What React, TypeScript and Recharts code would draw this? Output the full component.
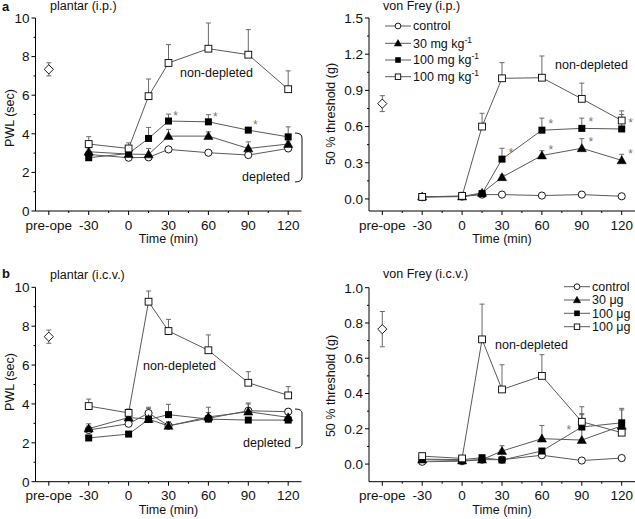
import React from 'react';
import { LineChart, Line, XAxis, YAxis, ErrorBar } from 'recharts';

// ---------- shared x axis ----------
const TIMES = [-30, 0, 15, 30, 60, 90, 120];
const PRE_X = -60;
const X_MAJOR = [-60, -30, 0, 30, 60, 90, 120];
const X_MINOR = [-45, -15, 15, 45, 75, 105];
const X_LABELS = ['pre-ope', '-30', '0', '30', '60', '90', '120'];

// ---------- panel a, plantar (i.p.)  PWL (sec) ----------
const A_PL_CTL = [2.93, 2.76, 2.78, 3.19, 3.02, 2.9, 3.24];
const A_PL_CTL_E = [0.1, 0.08, 0.08, 0.1, 0.1, 0.1, 0.1];
const A_PL_D30 = [3.07, 2.95, 2.93, 3.88, 3.88, 3.24, 3.47];
const A_PL_D30_E = [0.2, 0.15, 0.31, 0.35, 0.22, 0.34, 0.15];
const A_PL_D100 = [2.76, 2.98, 3.76, 4.66, 4.62, 4.19, 3.84];
const A_PL_D100_E = [0.1, 0.15, 0.57, 0.36, 0.37, 0.08, 0.52];
const A_PL_ND = [3.47, 3.24, 5.95, 7.67, 8.41, 8.1, 6.31];
const A_PL_ND_E = [0.38, 0.29, 0.89, 0.95, 1.33, 1.3, 0.95];
const A_PL_PRE = 7.34;
const A_PL_PRE_E = 0.34;
const A_PL_SIG_D100 = [0, 0, 0, 1, 1, 1, 0];

// ---------- panel a, von Frey (i.p.)  50 % threshold (g) ----------
const A_VF_CTL = [0.014, 0.02, 0.036, 0.036, 0.028, 0.036, 0.022];
const A_VF_CTL_E = [0.01, 0.01, 0.01, 0.01, 0.01, 0.01, 0.01];
const A_VF_D30 = [0.02, 0.02, 0.05, 0.18, 0.36, 0.42, 0.32];
const A_VF_D30_E = [0.01, 0.01, 0.015, 0.02, 0.04, 0.08, 0.05];
const A_VF_D100 = [0.02, 0.02, 0.044, 0.33, 0.57, 0.585, 0.58];
const A_VF_D100_E = [0.01, 0.01, 0.015, 0.09, 0.1, 0.085, 0.12];
const A_VF_ND = [0.017, 0.025, 0.6, 1.0, 1.005, 0.83, 0.65];
const A_VF_ND_E = [0.02, 0.03, 0.11, 0.13, 0.18, 0.13, 0.08];
const A_VF_PRE = 0.79;
const A_VF_PRE_E = 0.066;
const A_VF_SIG_D30 = [0, 0, 0, 0, 1, 1, 1];
const A_VF_SIG_D100 = [0, 0, 0, 1, 1, 1, 1];

// ---------- panel b, plantar (i.c.v.)  PWL (sec) ----------
const B_PL_CTL = [2.66, 2.98, 3.53, 2.88, 3.26, 3.65, 3.6];
const B_PL_CTL_E = [0.2, 0.25, 0.3, 0.2, 0.3, 0.35, 0.15];
const B_PL_D30 = [2.73, 3.3, 3.22, 2.87, 3.33, 3.6, 3.31];
const B_PL_D30_E = [0.25, 0.2, 0.55, 0.2, 0.5, 0.45, 0.2];
const B_PL_D100 = [2.25, 2.45, 3.2, 3.45, 3.22, 3.17, 3.17];
const B_PL_D100_E = [0.1, 0.1, 0.2, 0.53, 0.1, 0.1, 0.1];
const B_PL_ND = [3.89, 3.54, 9.26, 7.75, 6.76, 5.09, 4.44];
const B_PL_ND_E = [0.36, 0.2, 0.55, 0.6, 0.79, 0.57, 0.45];
const B_PL_PRE = 7.46;
const B_PL_PRE_E = 0.34;

// ---------- panel b, von Frey (i.c.v.)  50 % threshold (g) ----------
const B_VF_CTL = [0.013, 0.016, 0.025, 0.025, 0.05, 0.02, 0.034];
const B_VF_CTL_E = [0.005, 0.005, 0.005, 0.005, 0.01, 0.005, 0.005];
const B_VF_D30 = [0.025, 0.02, 0.025, 0.074, 0.144, 0.136, 0.217];
const B_VF_D30_E = [0.01, 0.01, 0.01, 0.03, 0.075, 0.15, 0.09];
const B_VF_D100 = [0.028, 0.025, 0.036, 0.023, 0.074, 0.21, 0.234];
const B_VF_D100_E = [0.01, 0.01, 0.01, 0.01, 0.01, 0.07, 0.082];
const B_VF_ND = [0.045, 0.032, 0.707, 0.423, 0.5, 0.24, 0.178];
const B_VF_ND_E = [0.01, 0.01, 0.2, 0.14, 0.12, 0.085, 0.02];
const B_VF_PRE = 0.765;
const B_VF_PRE_E = 0.1;
const B_VF_SIG_D100 = [0, 0, 0, 0, 0, 1, 0];

// ---------- axis ticks ----------
const PL_Y_MAJOR = [0, 2, 4, 6, 8, 10];
const PL_Y_MINOR = [1, 3, 5, 7, 9];
const A_VF_Y_MAJOR = [0, 0.3, 0.6, 0.9, 1.2, 1.5];
const A_VF_Y_MINOR = [0.15, 0.45, 0.75, 1.05, 1.35];
const B_VF_Y_MAJOR = [0, 0.2, 0.4, 0.6, 0.8, 1.0];
const B_VF_Y_MINOR = [0.1, 0.3, 0.5, 0.7, 0.9];

// ---------- legends ----------
const LEGEND_A = [
  { text: 'control', sup: '' },
  { text: '30 mg kg', sup: '-1' },
  { text: '100 mg kg', sup: '-1' },
  { text: '100 mg kg', sup: '-1' },
];
const LEGEND_B = [
  { text: 'control', sup: '' },
  { text: '30 \u03bcg', sup: '' },
  { text: '100 \u03bcg', sup: '' },
  { text: '100 \u03bcg', sup: '' },
];

const FONT = '"Liberation Sans", Arial, Helvetica, sans-serif';
const LINE_COLOR = '#5a5a5a';
const ERR_COLOR = '#6a6a6a';
const NUM_SIZE = 13.5;
const TXT_SIZE = 12.5;

type Kind = 'circle' | 'tri' | 'sq' | 'osq' | 'diamond';
const KINDS: Kind[] = ['circle', 'tri', 'sq', 'osq'];

function Marker({ kind, cx, cy, s = 1 }: { kind: Kind; cx: number; cy: number; s?: number }) {
  if (kind === 'circle')
    return <circle cx={cx} cy={cy} r={3.6 * s} fill="#fff" stroke="#000" strokeWidth={0.9} />;
  if (kind === 'tri') {
    const w = 4.6 * s;
    return (
      <polygon
        points={`${cx},${cy - 4.6 * s} ${cx + w},${cy + 3.4 * s} ${cx - w},${cy + 3.4 * s}`}
        fill="#000"
        stroke="#000"
        strokeWidth={0.5}
      />
    );
  }
  if (kind === 'sq') {
    const h = 3.5 * s;
    return <rect x={cx - h} y={cy - h} width={2 * h} height={2 * h} fill="#000" />;
  }
  if (kind === 'osq') {
    const h = 3.4 * s;
    return <rect x={cx - h} y={cy - h} width={2 * h} height={2 * h} fill="#fff" stroke="#000" strokeWidth={0.9} />;
  }
  const d = 4.6 * s;
  return (
    <polygon
      points={`${cx},${cy - d} ${cx + d},${cy} ${cx},${cy + d} ${cx - d},${cy}`}
      fill="#fff"
      stroke="#000"
      strokeWidth={0.9}
    />
  );
}

function makeDot(kind: Kind, sig?: number[], off?: [number, number]) {
  return (p: any) => {
    const { cx, cy, index } = p;
    const key = `dot-${kind}-${index}`;
    if (cx == null || cy == null || Number.isNaN(cy)) return <g key={key} />;
    return (
      <g key={key}>
        <Marker kind={kind} cx={cx} cy={cy} />
        {sig && sig[index] && off ? (
          <text
            x={cx + off[0]}
            y={cy + off[1] + 7}
            fontSize={12}
            fill="#777"
            fontFamily={FONT}
            textAnchor="middle"
          >
            *
          </text>
        ) : null}
      </g>
    );
  };
}

function near(list: number[], v: number) {
  return list.some((m) => Math.abs(m - v) < 1e-6);
}

function makeYTick(major: number[], digits: number) {
  return (p: any) => {
    const { x, y, payload } = p;
    const v = payload.value;
    const isMajor = near(major, v);
    return (
      <g>
        <line x1={x - (isMajor ? 4 : 2)} x2={x} y1={y} y2={y} stroke="#000" strokeWidth={1} />
        {isMajor ? (
          <text x={x - 6} y={y + 4.8} textAnchor="end" fontSize={NUM_SIZE} fontFamily={FONT} fill="#111">
            {v.toFixed(digits)}
          </text>
        ) : null}
      </g>
    );
  };
}

const XTick = (p: any) => {
  const { x, y, payload } = p;
  const v = payload.value;
  const idx = X_MAJOR.findIndex((m) => Math.abs(m - v) < 1e-6);
  const isMajor = idx >= 0;
  return (
    <g>
      <line x1={x} x2={x} y1={y} y2={y + (isMajor ? 4 : 2)} stroke="#000" strokeWidth={1} />
      {isMajor ? (
        <text x={x} y={y + 18.5} textAnchor="middle" fontSize={NUM_SIZE} fontFamily={FONT} fill="#111">
          {X_LABELS[idx]}
        </text>
      ) : null}
    </g>
  );
};

function buildRows(series: number[][], errs: number[][]) {
  return TIMES.map((t, i) => {
    const row: any = { t };
    series.forEach((s, k) => {
      row[`s${k}`] = s[i];
      row[`e${k}`] = [0, errs[k][i]];
    });
    return row;
  });
}

type PanelProps = {
  left: number;
  top: number;
  width: number;
  height: number;
  plotTop: number;
  yAxisWidth: number;
  rightMargin: number;
  xAxisHeight: number;
  yDomain: [number, number];
  yMajor: number[];
  yMinor: number[];
  digits: number;
  series: number[][];
  errs: number[][];
  pre: number;
  preErr: number;
  sigs: (number[] | undefined)[];
  sigOff?: [number, number];
};

function Panel(props: PanelProps) {
  const rows = buildRows(props.series, props.errs);
  const preRows = [{ t: PRE_X, pre: props.pre, preE: [props.preErr, props.preErr] }];
  const yTicks = [...props.yMajor, ...props.yMinor].sort((a, b) => a - b);
  const xTicks = [...X_MAJOR, ...X_MINOR].sort((a, b) => a - b);
  const order = [0, 1, 2, 3];
  return (
    <div style={{ position: 'absolute', left: props.left, top: props.top }}>
      <LineChart
        width={props.width}
        height={props.height}
        data={rows}
        margin={{ top: props.plotTop, right: props.rightMargin, left: 0, bottom: 0 }}
      >
        <XAxis
          dataKey="t"
          type="number"
          domain={[-70, 130]}
          ticks={xTicks}
          interval={0}
          tickSize={0}
          tickMargin={0}
          tickLine={false}
          tick={XTick}
          height={props.xAxisHeight}
          axisLine={{ stroke: '#000', strokeWidth: 1 }}
          allowDuplicatedCategory={false}
        />
        <YAxis
          type="number"
          domain={props.yDomain}
          ticks={yTicks}
          interval={0}
          tickSize={0}
          tickMargin={0}
          tickLine={false}
          tick={makeYTick(props.yMajor, props.digits)}
          width={props.yAxisWidth}
          axisLine={{ stroke: '#000', strokeWidth: 1 }}
        />
        {order.map((k) => (
          <Line
            key={`s${k}`}
            dataKey={`s${k}`}
            stroke={LINE_COLOR}
            strokeWidth={1}
            isAnimationActive={false}
            dot={makeDot(KINDS[k], props.sigs[k], props.sigOff)}
            activeDot={false}
          >
            <ErrorBar dataKey={`e${k}`} width={2.5} stroke={ERR_COLOR} strokeWidth={1} direction="y" />
          </Line>
        ))}
        <Line
          data={preRows}
          dataKey="pre"
          stroke="none"
          isAnimationActive={false}
          dot={makeDot('diamond')}
          activeDot={false}
        >
          <ErrorBar dataKey="preE" width={2.5} stroke={ERR_COLOR} strokeWidth={1} direction="y" />
        </Line>
      </LineChart>
    </div>
  );
}

function Legend({ x0, x1, xm, xt, rows, items }: { x0: number; x1: number; xm: number; xt: number; rows: number[]; items: { text: string; sup: string }[] }) {
  return (
    <g>
      {items.map((it, i) => (
        <g key={i}>
          <line x1={x0} x2={x1} y1={rows[i]} y2={rows[i]} stroke={LINE_COLOR} strokeWidth={1} />
          <Marker kind={KINDS[i]} cx={xm} cy={rows[i]} s={0.8} />
          <text x={xt} y={rows[i] + 4.4} fontSize={TXT_SIZE} fontFamily={FONT} fill="#111">
            {it.text}
            {it.sup ? (
              <tspan dy={-5} fontSize={8.5}>
                {it.sup}
              </tspan>
            ) : null}
          </text>
        </g>
      ))}
    </g>
  );
}

function T({ x, y, children, anchor = 'start', size = TXT_SIZE, weight = 'normal', rotate = false }: any) {
  return (
    <text
      x={x}
      y={y}
      textAnchor={anchor}
      fontSize={size}
      fontWeight={weight}
      fontFamily={FONT}
      fill="#111"
      transform={rotate ? `rotate(-90 ${x} ${y})` : undefined}
    >
      {children}
    </text>
  );
}

export default function App() {
  return (
    <div style={{ position: 'absolute', left: 0, top: 0, width: 635, height: 519, background: '#fff', overflow: 'hidden' }}>
      <Panel
        left={0}
        top={0}
        width={320}
        height={250}
        plotTop={18}
        yAxisWidth={35.5}
        rightMargin={18.5}
        xAxisHeight={39}
        yDomain={[0, 10]}
        yMajor={PL_Y_MAJOR}
        yMinor={PL_Y_MINOR}
        digits={0}
        series={[A_PL_CTL, A_PL_D30, A_PL_D100, A_PL_ND]}
        errs={[A_PL_CTL_E, A_PL_D30_E, A_PL_D100_E, A_PL_ND_E]}
        pre={A_PL_PRE}
        preErr={A_PL_PRE_E}
        sigs={[undefined, undefined, A_PL_SIG_D100, undefined]}
        sigOff={[7, -8]}
      />
      <Panel
        left={315}
        top={0}
        width={320}
        height={250}
        plotTop={18}
        yAxisWidth={54}
        rightMargin={0}
        xAxisHeight={39}
        yDomain={[-0.1, 1.5]}
        yMajor={A_VF_Y_MAJOR}
        yMinor={A_VF_Y_MINOR}
        digits={1}
        series={[A_VF_CTL, A_VF_D30, A_VF_D100, A_VF_ND]}
        errs={[A_VF_CTL_E, A_VF_D30_E, A_VF_D100_E, A_VF_ND_E]}
        pre={A_VF_PRE}
        preErr={A_VF_PRE_E}
        sigs={[undefined, A_VF_SIG_D30, A_VF_SIG_D100, undefined]}
        sigOff={[9, -9]}
      />
      <Panel
        left={0}
        top={255}
        width={320}
        height={264}
        plotTop={32.3}
        yAxisWidth={35.5}
        rightMargin={18.5}
        xAxisHeight={37.3}
        yDomain={[0, 10]}
        yMajor={PL_Y_MAJOR}
        yMinor={PL_Y_MINOR}
        digits={0}
        series={[B_PL_CTL, B_PL_D30, B_PL_D100, B_PL_ND]}
        errs={[B_PL_CTL_E, B_PL_D30_E, B_PL_D100_E, B_PL_ND_E]}
        pre={B_PL_PRE}
        preErr={B_PL_PRE_E}
        sigs={[undefined, undefined, undefined, undefined]}
      />
      <Panel
        left={315}
        top={255}
        width={320}
        height={264}
        plotTop={32.7}
        yAxisWidth={54}
        rightMargin={0}
        xAxisHeight={37.3}
        yDomain={[-0.1, 1.0]}
        yMajor={B_VF_Y_MAJOR}
        yMinor={B_VF_Y_MINOR}
        digits={1}
        series={[B_VF_CTL, B_VF_D30, B_VF_D100, B_VF_ND]}
        errs={[B_VF_CTL_E, B_VF_D30_E, B_VF_D100_E, B_VF_ND_E]}
        pre={B_VF_PRE}
        preErr={B_VF_PRE_E}
        sigs={[undefined, undefined, B_VF_SIG_D100, undefined]}
        sigOff={[-13, 0]}
      />
      <svg
        width={635}
        height={519}
        style={{ position: 'absolute', left: 0, top: 0, pointerEvents: 'none' }}
      >
        <T x={2} y={10.5} size={13} weight="bold">a</T>
        <T x={50} y={10}>plantar (i.p.)</T>
        <T x={383} y={10}>von Frey (i.p.)</T>
        <T x={2} y={278} size={13} weight="bold">b</T>
        <T x={50} y={279}>plantar (i.c.v.)</T>
        <T x={383} y={278}>von Frey (i.c.v.)</T>

        <T x={168.5} y={243} anchor="middle">Time (min)</T>
        <T x={502} y={243} anchor="middle">Time (min)</T>
        <T x={168.5} y={514} anchor="middle">Time (min)</T>
        <T x={502} y={514} anchor="middle">Time (min)</T>

        <T x={14} y={118} anchor="middle" rotate>PWL (sec)</T>
        <T x={335} y={114} anchor="middle" rotate>50 % threshold (g)</T>
        <T x={14} y={382} anchor="middle" rotate>PWL (sec)</T>
        <T x={335} y={386} anchor="middle" rotate>50 % threshold (g)</T>

        <T x={180} y={77}>non-depleted</T>
        <T x={242} y={181}>depleted</T>
        <path d="M295,133 Q302,133 302,138 L302,177 Q302,182 295,182" fill="none" stroke="#111" strokeWidth={1} />
        <T x={555} y={69}>non-depleted</T>
        <T x={143} y={370}>non-depleted</T>
        <T x={243} y={447}>depleted</T>
        <path d="M295,409 Q302,409 302,413 L302,444 Q302,448 295,448" fill="none" stroke="#111" strokeWidth={1} />
        <T x={495} y={349}>non-depleted</T>

        <Legend x0={385} x1={411} xm={398} xt={413} rows={[26, 43.3, 60, 76.7]} items={LEGEND_A} />
        <Legend x0={564} x1={590} xm={577} xt={592} rows={[286.7, 300, 313.3, 326.7]} items={LEGEND_B} />
      </svg>
    </div>
  );
}
